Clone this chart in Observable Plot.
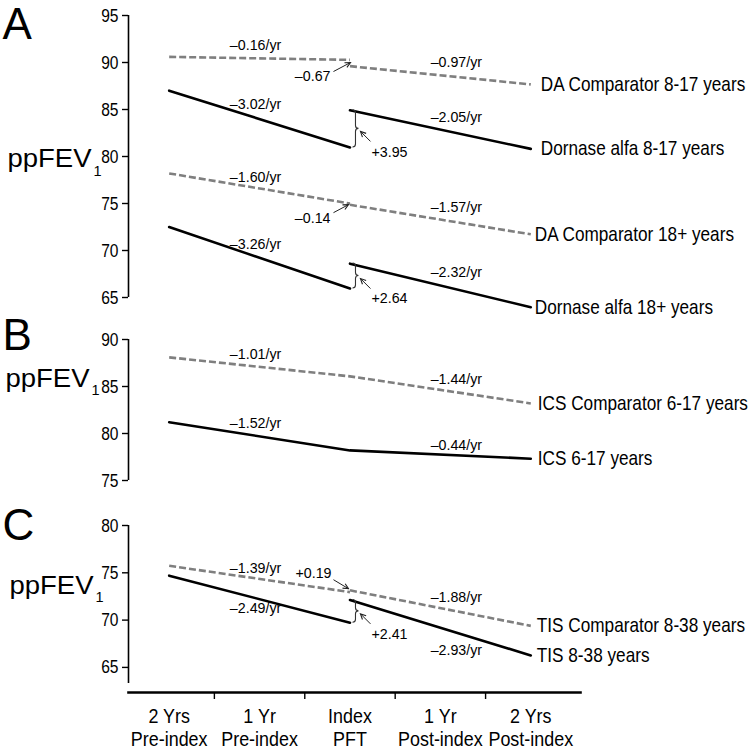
<!DOCTYPE html>
<html>
<head>
<meta charset="utf-8">
<script src="https://cdn.jsdelivr.net/npm/d3@7"></script>
<script src="https://cdn.jsdelivr.net/npm/@observablehq/plot@0.6"></script>
<style>
  html, body { margin: 0; padding: 0; background: #fff; }
  #chart { width: 750px; }
  #chart svg { display: block; }
</style>
</head>
<body>
<div id="chart"></div>
<script>
// ---------------- DATA ----------------
const timepoints = [-2, -1, 0, 1, 2];
const timeLabels = ["2 Yrs\nPre-index", "1 Yr\nPre-index", "Index\nPFT", "1 Yr\nPost-index", "2 Yrs\nPost-index"];

const panelKeys = ["A", "B", "C"];
const yTicksA = [65, 70, 75, 80, 85, 90, 95];
const yTicksB = [75, 80, 85, 90];
const yTicksC = [65, 70, 75, 80];
const yAxisLabel = "ppFEV";
const yAxisLabelSub = "1";

const seriesPanel = ["A", "A", "A", "A", "B", "B", "C", "C"];
const seriesNames = [
  "DA Comparator 8-17 years", "Dornase alfa 8-17 years",
  "DA Comparator 18+ years", "Dornase alfa 18+ years",
  "ICS Comparator 6-17 years", "ICS 6-17 years",
  "TIS Comparator 8-38 years", "TIS 8-38 years"
];
const seriesComparator = [true, false, true, false, true, false, true, false];
const preStart  = [90.60, 87.00, 78.20, 72.50, 88.10, 81.20, 75.74, 74.70];
const preEnd    = [90.28, 80.96, 75.00, 65.96, 86.08, 78.20, 72.96, 69.72];
const postStart = [89.61, 84.91, 74.86, 68.60, 86.08, 78.20, 73.15, 72.13];
const postEnd   = [87.67, 80.81, 71.72, 63.96, 83.20, 77.32, 69.39, 66.27];
const preSlopeLabels  = ["–0.16/yr", "–3.02/yr", "–1.60/yr", "–3.26/yr", "–1.01/yr", "–1.52/yr", "–1.39/yr", "–2.49/yr"];
const postSlopeLabels = ["–0.97/yr", "–2.05/yr", "–1.57/yr", "–2.32/yr", "–1.44/yr", "–0.44/yr", "–1.88/yr", "–2.93/yr"];
const jumpLabels = ["–0.67", "+3.95", "–0.14", "+2.64", null, null, "+0.19", "+2.41"];

// ---------------- LAYOUT / STYLE ----------------
const FONT = '"Liberation Sans", Arimo, Arial, sans-serif';
// font sizes (px) of the text families and the horizontal scaling applied to each
const FS_TICK = 19, FS_CAT = 19.5, FS_END = 20, FS_SLOPE = 15, FS_YLAB = 25, FS_SUB = 14.5, FS_LETTER = 44;
const WIDTH_SCALE = {19: 0.82, 19.5: 0.92, 20: 0.86, 15: 0.95, 25: 1.1, 14.5: 1, 44: 1};
const DASH_COLOR = "#7f7f7f";
const preDy  = [-13, -15, -11, -14, -13, -13, -11, 9];
const postDy = [-13, -12, -12, -13, -11, -9, -11, 23];
const endDx  = [10, 10, 4, 4, 7, 7, 6, 6];
// offsets (px) relative to the index point / jump midpoint
const annotLayout = [
  {head: [1, 0],  tail: [-16, 9],   text: [-19, 13], anchor: "end"},
  {brace: 6, head: [11, 3], tail: [21, 13], text: [22, 23], anchor: "start"},
  {head: [-1, 1], tail: [-16, 9],   text: [-19, 14], anchor: "end"},
  {brace: 6, head: [11, 3], tail: [21, 13], text: [22, 22], anchor: "start"},
  null, null,
  {head: [-1, -2], tail: [-16, -11], text: [-18, -18], anchor: "end"},
  {brace: 6, head: [11, 3], tail: [21, 13], text: [22, 23], anchor: "start"}
];

const panelLayout = {
  A: {yDomain: [65, 95], ticks: yTicksA, height: 315, marginTop: 15, marginBottom: 18, insetBottom: 0, letterDy: -8, labelDy: 143, subDy: 13, labelRight: 91, xAxis: false},
  B: {yDomain: [75, 90], ticks: yTicksB, height: 180, marginTop: 24, marginBottom: 15, insetBottom: 0, letterDy: -21, labelDy: 39, subDy: 12, labelRight: 89, xAxis: false},
  C: {yDomain: [63.3, 80], ticks: yTicksC, height: 255, marginTop: 30, marginBottom: 58, insetBottom: 9, letterDy: -17, labelDy: 60, subDy: 12, labelRight: 93, xAxis: true}
};
const X_DOMAIN = [-2.45, 2.55];
const MARGIN_LEFT = 128, MARGIN_RIGHT = 170;

function annotMark(ids) {
  return (index, scales) => {
    const g = d3.create("svg:g");
    ids.forEach(i => {
      const lab = jumpLabels[i];
      const L = annotLayout[i];
      if (!lab || !L) return;
      const x0 = scales.x(timepoints[2]);
      const ya = scales.y(preEnd[i]), yb = scales.y(postStart[i]);
      const ym = (ya + yb) / 2;
      if (L.brace) {
        const bx = x0 + L.brace;
        const yt = Math.min(ya, yb), ybt = Math.max(ya, yb);
        const p = d3.path();
        p.moveTo(bx - 3, yt);
        p.quadraticCurveTo(bx, yt, bx, yt + 3);
        p.lineTo(bx, ym - 3);
        p.quadraticCurveTo(bx, ym, bx + 3, ym);
        p.quadraticCurveTo(bx, ym, bx, ym + 3);
        p.lineTo(bx, ybt - 3);
        p.quadraticCurveTo(bx, ybt, bx - 3, ybt);
        g.append("path").attr("d", p.toString()).attr("fill", "none").attr("stroke", "#333").attr("stroke-width", 1.1);
      }
      const hx = x0 + L.head[0], hy = ym + L.head[1];
      const tx = x0 + L.tail[0], ty = ym + L.tail[1];
      g.append("line").attr("x1", tx).attr("y1", ty).attr("x2", hx).attr("y2", hy)
        .attr("stroke", "#222").attr("stroke-width", 1);
      const ang = Math.atan2(hy - ty, hx - tx);
      const a1 = ang + Math.PI - 0.45, a2 = ang + Math.PI + 0.45, len = 6;
      g.append("path")
        .attr("d", `M${hx + len * Math.cos(a1)},${hy + len * Math.sin(a1)}L${hx},${hy}L${hx + len * Math.cos(a2)},${hy + len * Math.sin(a2)}`)
        .attr("fill", "none").attr("stroke", "#222").attr("stroke-width", 1.1);
      g.append("text")
        .attr("transform", `translate(${x0 + L.text[0]},${ym + L.text[1]})`)
        .attr("dy", "0.35em")
        .attr("text-anchor", L.anchor)
        .attr("font-size", FS_SLOPE)
        .attr("fill", "#000")
        .text(lab);
    });
    return g.node();
  };
}

function makePanel(key) {
  const P = panelLayout[key];
  const ids = seriesPanel.map((s, i) => (s === key ? i : -1)).filter(i => i >= 0);
  const rows = [];
  ids.forEach(i => {
    if (preEnd[i] === postStart[i]) {
      rows.push({key: i + "a", i, t: timepoints[0], v: preStart[i]});
      rows.push({key: i + "a", i, t: timepoints[2], v: preEnd[i]});
      rows.push({key: i + "a", i, t: timepoints[4], v: postEnd[i]});
    } else {
      rows.push({key: i + "a", i, t: timepoints[0], v: preStart[i]});
      rows.push({key: i + "a", i, t: timepoints[2], v: preEnd[i]});
      rows.push({key: i + "b", i, t: timepoints[2], v: postStart[i]});
      rows.push({key: i + "b", i, t: timepoints[4], v: postEnd[i]});
    }
  });
  const dashedRows = rows.filter(r => seriesComparator[r.i]);
  const solidRows = rows.filter(r => !seriesComparator[r.i]);

  const marks = [];
  marks.push(Plot.ruleX([{x: X_DOMAIN[0], y1: P.yDomain[0], y2: P.yDomain[1]}],
    {x: "x", y1: "y1", y2: "y2", stroke: "#000", strokeWidth: 1.6}));
  marks.push(Plot.axisY({ticks: P.ticks, tickSize: 6, tickPadding: 4, fontSize: FS_TICK, strokeWidth: 1.4, label: null}));

  marks.push(Plot.line(dashedRows, {x: "t", y: "v", z: "key", stroke: DASH_COLOR, strokeWidth: 2.6, strokeDasharray: "7,3", strokeLinecap: "butt"}));
  marks.push(Plot.line(solidRows, {x: "t", y: "v", z: "key", stroke: "#000", strokeWidth: 2.6, strokeLinejoin: "round"}));

  ids.forEach(i => {
    marks.push(Plot.text([{t: timepoints[1], v: (preStart[i] + preEnd[i]) / 2, s: preSlopeLabels[i]}],
      {x: "t", y: "v", text: "s", dx: -4, dy: preDy[i], fontSize: FS_SLOPE, fill: "#000"}));
    marks.push(Plot.text([{t: timepoints[3], v: (postStart[i] + postEnd[i]) / 2, s: postSlopeLabels[i]}],
      {x: "t", y: "v", text: "s", dx: 16, dy: postDy[i], fontSize: FS_SLOPE, fill: "#000"}));
    marks.push(Plot.text([{t: timepoints[4], v: postEnd[i], s: seriesNames[i]}],
      {x: "t", y: "v", text: "s", dx: endDx[i], textAnchor: "start", fontSize: FS_END, fill: "#000"}));
  });

  marks.push(annotMark(ids));

  marks.push(Plot.text([key], {frameAnchor: "top-left", dx: 2 - MARGIN_LEFT, dy: P.letterDy, textAnchor: "start", lineAnchor: "top", fontSize: FS_LETTER, fill: "#000"}));
  marks.push(Plot.text([yAxisLabel], {frameAnchor: "top-left", dx: P.labelRight - MARGIN_LEFT, dy: P.labelDy, textAnchor: "end", lineAnchor: "middle", fontSize: FS_YLAB, fill: "#000"}));
  marks.push(Plot.text([yAxisLabelSub], {frameAnchor: "top-left", dx: P.labelRight + 2 - MARGIN_LEFT, dy: P.labelDy + P.subDy, textAnchor: "start", lineAnchor: "middle", fontSize: FS_SUB, fill: "#000"}));

  if (P.xAxis) {
    marks.push(Plot.frame({anchor: "bottom", stroke: "#000", strokeWidth: 2.6}));
    marks.push(Plot.axisX({ticks: [-1.5, -0.5, 0.5, 1.5], tickSize: 7, tickFormat: () => "", strokeWidth: 1.4, label: null}));
    marks.push(Plot.axisX({ticks: timepoints, tickSize: 0, tickPadding: 14, fontSize: FS_CAT, lineHeight: 1.19,
      tickFormat: d => timeLabels[timepoints.indexOf(d)], label: null}));
  }

  const svg = Plot.plot({
    width: 750,
    height: P.height,
    marginLeft: MARGIN_LEFT,
    marginRight: MARGIN_RIGHT,
    marginTop: P.marginTop,
    marginBottom: P.marginBottom,
    style: {fontFamily: FONT, fontSize: "19px", background: "#fff", color: "#000", overflow: "visible"},
    x: {domain: X_DOMAIN, axis: null, label: null},
    y: {domain: P.yDomain, axis: null, label: null, insetBottom: P.insetBottom},
    marks
  });

  // scale each text horizontally around its own anchor, according to its text family
  svg.querySelectorAll("text").forEach(t => {
    const holder = t.hasAttribute("font-size") ? t : t.closest("[font-size]");
    const fs = holder ? +holder.getAttribute("font-size") : 19;
    const k = WIDTH_SCALE[fs] ?? 1;
    if (k === 1) return;
    const tr = t.getAttribute("transform") || "";
    t.setAttribute("transform", `${tr} scale(${k},1)`);
  });
  return svg;
}

const chart = document.getElementById("chart");
panelKeys.forEach(k => chart.appendChild(makePanel(k)));
</script>
</body>
</html>
